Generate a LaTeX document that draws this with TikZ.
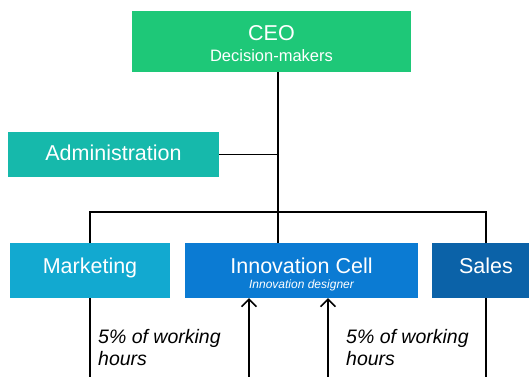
\documentclass[tikz,border=0pt]{standalone}
\usepackage{fontspec}
\setmainfont{Liberation Sans}
\usetikzlibrary{arrows.meta}
\definecolor{ceoc}{HTML}{1EC878}
\definecolor{admc}{HTML}{16B9AB}
\definecolor{mktc}{HTML}{12A9D0}
\definecolor{invc}{HTML}{0B7BD3}
\definecolor{salc}{HTML}{0B62A8}
\tikzset{
  box/.style={draw=none, inner sep=0pt, outer sep=0pt, rectangle},
  lbl/.style={text=white, inner sep=0pt, anchor=base, font=\fontsize{21.5}{24}\selectfont},
  conn/.style={draw=black, line width=1.8pt},
  arr/.style={conn, -{Straight Barb[length=7.5pt,width=15pt,line width=1.6pt]}},
  note/.style={inner sep=0pt, anchor=base west, align=left, font=\fontsize{19.5}{21.5}\selectfont\itshape}
}
\begin{document}
\begin{tikzpicture}[x=1pt,y=-1pt]
\clip (0,0) rectangle (529,376);
\fill[white] (0,0) rectangle (529,376);
% boxes
\node[box, fill=ceoc, minimum width=279pt, minimum height=61pt] (ceo) at (271.5,41.5) {};
\node[box, fill=admc, minimum width=211pt, minimum height=45pt] (adm) at (113.5,154.5) {};
\node[box, fill=mktc, minimum width=160pt, minimum height=55pt] (mkt) at (90,270.5) {};
\node[box, fill=invc, minimum width=233pt, minimum height=55pt] (inv) at (301.5,270.5) {};
\node[box, fill=salc, minimum width=108pt, minimum height=55pt] (sal) at (486,270.5) {};
% labels
\node[lbl] (ceot) at (271.5,40) {CEO};
\node[lbl, font=\fontsize{16.5}{18}\selectfont] (ceos) at (271.5,61) {Decision-makers};
\node[lbl] (admt) at (113.5,160.5) {Administration};
\node[lbl] (mktt) at (90,273) {Marketing};
\node[lbl] (invt) at (301.5,273) {Innovation Cell};
\node[lbl, font=\fontsize{12}{14}\selectfont\itshape] (invs) at (301.5,288) {Innovation designer};
\node[lbl] (salt) at (486,273) {Sales};
% notes
\node[note] (n1) at (98,365) {5\% of working\\hours};
\node[note] (n2) at (346,365) {5\% of working\\hours};
% junctions
\coordinate (j1) at (278,154.5);
\coordinate (j2) at (278,212);
\coordinate (mb) at (90,380);
\coordinate (sb) at (486,380);
\coordinate (a1) at (249,380);
\coordinate (a2) at (328,380);
% connectors
\draw[conn] (ceo.south -| j1) -- (j2);
\draw[conn] (adm.east) -- (j1);
\draw[conn] (mkt.north) |- (j2) -| (sal.north);
\draw[conn] (j2) -- (inv.north -| j2);
\draw[conn] (mkt.south) -- (mb);
\draw[conn] (sal.south) -- (sb);
\draw[arr] (a1) -- (a1 |- inv.south);
\draw[arr] (a2) -- (a2 |- inv.south);
\end{tikzpicture}
\end{document}
